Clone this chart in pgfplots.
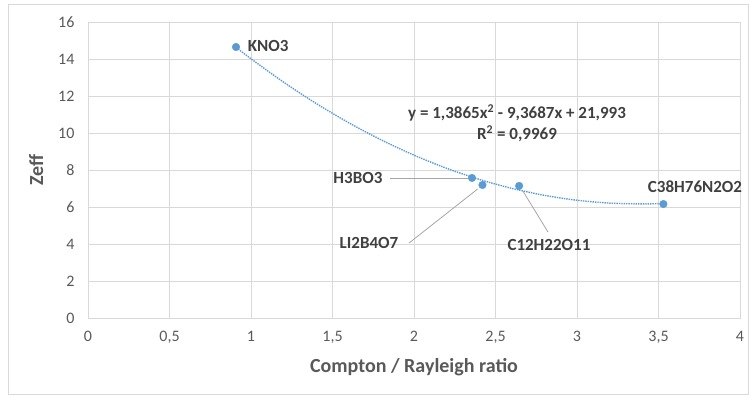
\documentclass[border=0pt]{standalone}
\usepackage{pgfplots}
\pgfplotsset{compat=1.18}
\usepackage{fontspec}
\setmainfont{Carlito}
\definecolor{gridc}{HTML}{D9D9D9}
\definecolor{txt}{HTML}{595959}
\definecolor{lbl}{HTML}{404040}
\definecolor{ptc}{HTML}{5B9BD5}
\definecolor{lead}{HTML}{A6A6A6}
\begin{document}
\begin{tikzpicture}[x=1pt,y=1pt]
\path[use as bounding box] (0,0) rectangle (749,396);
\draw[gridc, line width=0.8pt] (8,1.5) rectangle (748,392);
\begin{axis}[
  at={(88pt,78pt)}, anchor=south west,
  scale only axis, width=652pt, height=296pt,
  xmin=0, xmax=4, ymin=0, ymax=16,
  xtick={0,0.5,...,4}, ytick={0,2,...,16},
  xticklabels={0,{0,5},1,{1,5},2,{2,5},3,{3,5},4},
  grid=major, major grid style={gridc, line width=0.8pt},
  axis line style={gridc, line width=0.8pt},
  tick style={draw=none},
  /pgf/number format/assume math mode=true,
  ticklabel style={font=\fontsize{16}{18}\selectfont, text=txt},
  xticklabel style={yshift=-10pt},
  yticklabel style={xshift=-10pt},
  xlabel={\textbf{Compton / Rayleigh ratio}},
  ylabel={\textbf{Zeff}},
  label style={font=\fontsize{20}{22}\selectfont, text=txt},
  xlabel style={yshift=-8pt},
  ylabel style={yshift=8pt},
  clip=false,
]
\addplot[ptc, densely dotted, line width=1.4pt, smooth] coordinates {
(0.91,14.62) (1.0,14.011) (1.2,12.747) (1.4,11.594) (1.6,10.553) (1.8,9.622)
(2.0,8.802) (2.2,8.093) (2.4,7.494) (2.6,7.007) (2.8,6.631) (3.0,6.365)
(3.2,6.211) (3.4,6.167) (3.53,6.19)};
\addplot[only marks, mark=*, mark size=3.8pt, color=ptc] coordinates {
(0.908,14.65) (2.356,7.57) (2.42,7.19) (2.645,7.14) (3.53,6.16)};
\draw[lead, line width=0.8pt] (axis cs:1.853,7.57) -- (axis cs:2.33,7.57);
\draw[lead, line width=0.8pt] (axis cs:1.969,4.05) -- (axis cs:2.39,6.97);
\draw[lead, line width=0.8pt] (axis cs:2.822,4.65) -- (axis cs:2.669,6.85);
\begin{scope}[every node/.style={font=\fontsize{17}{19}\selectfont\bfseries, text=lbl, inner sep=0pt}]
\node[anchor=west] at (axis cs:0.98,14.68) {KNO3};
\node at (axis cs:1.656,7.57) {H3BO3};
\node at (axis cs:1.724,4.05) {LI2B4O7};
\node at (axis cs:2.828,3.95) {C12H22O11};
\node at (axis cs:3.724,7.08) {C38H76N2O2};
\node at (axis cs:2.632,11.08) {y = 1,3865x\textsuperscript{2} - 9,3687x + 21,993};
\node at (axis cs:2.632,9.95) {R\textsuperscript{2} = 0,9969};
\end{scope}
\end{axis}
\end{tikzpicture}
\end{document}
